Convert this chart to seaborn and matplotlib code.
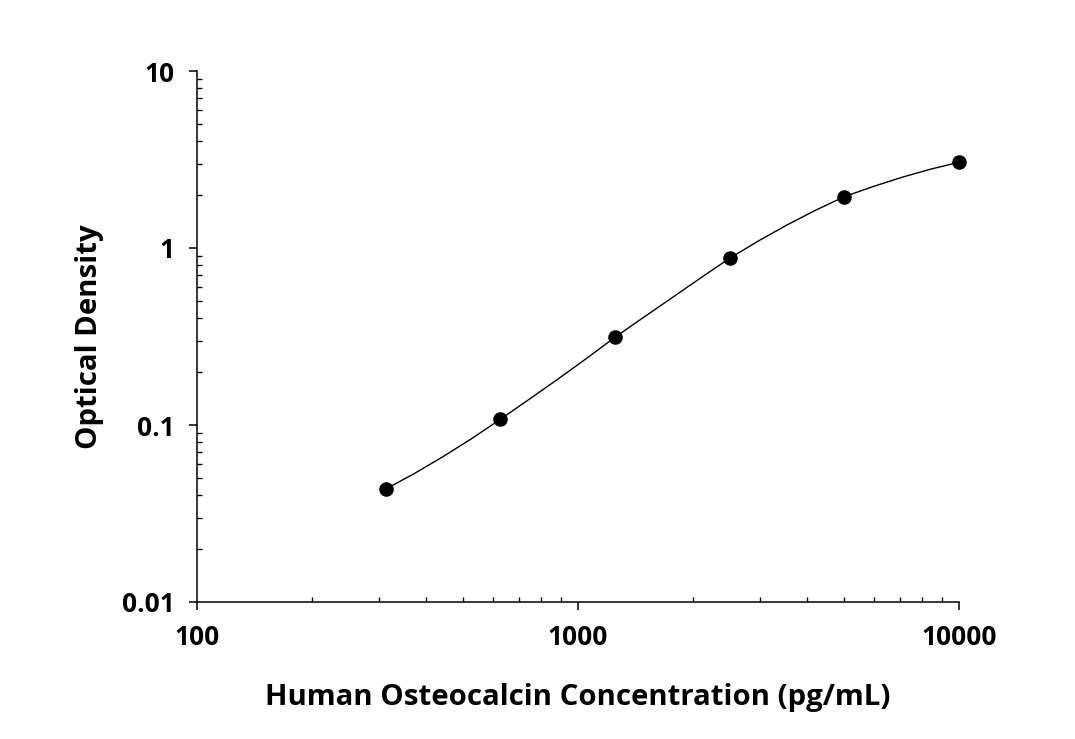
import matplotlib
matplotlib.use("Agg")
import matplotlib.pyplot as plt
import seaborn as sns
import pandas as pd
from matplotlib.ticker import FixedLocator, LogLocator, NullFormatter

# Data points (concentration in pg/mL, optical density)
conc = [312.5, 625, 1250, 2500, 5000, 10000]
od = [0.0434, 0.1077, 0.313, 0.875, 1.95, 3.05]

# Fitted curve
curve_x = [312.5, 372, 442, 526, 625, 743, 884, 1051, 1250, 1486, 1768, 2102,
           2500, 2973, 3536, 4204, 5000, 5946, 7071, 8409, 10000]
curve_y = [0.0434, 0.0532, 0.0662, 0.0838, 0.1076, 0.1393, 0.1811, 0.2371,
           0.313, 0.4055, 0.5248, 0.6792, 0.8745, 1.095, 1.349, 1.635,
           1.949, 2.223, 2.506, 2.786, 3.05]

xticks = [100, 1000, 10000]
xtick_labels = ["100", "1000", "10000"]
yticks = [0.01, 0.1, 1, 10]
ytick_labels = ["0.01", "0.1", "1", "10"]

x_label = "Human Osteocalcin Concentration (pg/mL)"
y_label = "Optical Density"

sns.set_style("ticks")
plt.rcParams["font.family"] = ["Open Sans", "DejaVu Sans"]
plt.rcParams["font.weight"] = "bold"
plt.rcParams["text.color"] = "black"
plt.rcParams["axes.labelcolor"] = "black"
plt.rcParams["xtick.color"] = "black"
plt.rcParams["ytick.color"] = "black"

fig = plt.figure(figsize=(10.75, 7.39), dpi=100)
ax = fig.add_axes([197 / 1075, 1 - 602 / 739, (959 - 197) / 1075, (602 - 71) / 739])

pts = pd.DataFrame({"x": conc, "y": od})
crv = pd.DataFrame({"x": curve_x, "y": curve_y})

sns.lineplot(data=crv, x="x", y="y", ax=ax, color="black", linewidth=1.0,
             sort=False, estimator=None)
sns.scatterplot(data=pts, x="x", y="y", ax=ax, color="black", s=110,
                edgecolor="black", linewidth=0, zorder=3, clip_on=False)

ax.set_xscale("log")
ax.set_yscale("log")
ax.set_xlim(100, 10000)
ax.set_ylim(0.01, 10)

ax.xaxis.set_major_locator(FixedLocator(xticks))
ax.set_xticklabels(xtick_labels)
ax.yaxis.set_major_locator(FixedLocator(yticks))
ax.set_yticklabels(ytick_labels)
ax.xaxis.set_minor_locator(LogLocator(base=10, subs=range(2, 10)))
ax.yaxis.set_minor_locator(LogLocator(base=10, subs=range(2, 10)))
ax.xaxis.set_minor_formatter(NullFormatter())
ax.yaxis.set_minor_formatter(NullFormatter())

for side in ["top", "right"]:
    ax.spines[side].set_visible(False)
for side in ["left", "bottom"]:
    ax.spines[side].set_linewidth(1.1)
    ax.spines[side].set_color("black")

ax.tick_params(which="major", direction="out", length=6, width=1.1,
               colors="black", labelcolor="black", labelsize=19, pad=10)
ax.tick_params(which="minor", direction="in", length=3.5, width=1.0,
               colors="black")
for lab in ax.get_xticklabels() + ax.get_yticklabels():
    lab.set_fontweight("bold")
    lab.set_color("black")

ax.set_xlabel(x_label, fontsize=21.2, fontweight="bold", labelpad=23,
              color="black")
ax.set_ylabel(y_label, fontsize=21.2, fontweight="bold", labelpad=13,
              color="black")

fig.savefig("out.png", dpi=100, facecolor="white")
